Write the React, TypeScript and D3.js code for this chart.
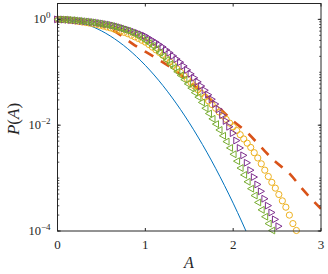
import React from "react";
import * as d3 from "d3";

// sample positions of the marker series (A)
const markerA = [
  0, 0.04, 0.08, 0.12, 0.16, 0.2, 0.24, 0.28, 0.32, 0.36, 0.4, 0.44, 0.48, 0.52, 0.56, 0.6, 0.64, 0.68, 0.72, 0.76,
  0.8, 0.84, 0.88, 0.92, 0.96, 1.0, 1.04, 1.08, 1.12, 1.16, 1.2, 1.24, 1.28, 1.32, 1.36, 1.4, 1.44, 1.48, 1.52, 1.56,
  1.6, 1.64, 1.68, 1.72, 1.76, 1.8, 1.84, 1.88, 1.92, 1.96, 2.0, 2.04, 2.08, 2.12, 2.16, 2.2, 2.24, 2.28, 2.32, 2.36,
  2.4, 2.44, 2.48, 2.52, 2.56, 2.6, 2.64, 2.68, 2.72,
];

// log10 P(A)
const circleLog = [
  0, -0.003, -0.006, -0.011, -0.02, -0.03, -0.039, -0.049, -0.059, -0.069, -0.08, -0.094, -0.11, -0.126, -0.143, -0.16,
  -0.18, -0.201, -0.223, -0.246, -0.27, -0.3, -0.33, -0.36, -0.395, -0.43, -0.475, -0.525, -0.575, -0.625, -0.68, -0.74,
  -0.805, -0.87, -0.935, -1.0, -1.065, -1.13, -1.195, -1.26, -1.33, -1.4, -1.47, -1.54, -1.61, -1.68, -1.75, -1.82,
  -1.89, -1.96, -2.03, -2.1, -2.18, -2.26, -2.34, -2.42, -2.52, -2.62, -2.73, -2.85, -2.97, -3.08, -3.19, -3.31, -3.43,
  -3.55, -3.7, -3.86, -3.99,
];

const rightTriLog = [
  0, -0.002, -0.005, -0.009, -0.014, -0.02, -0.025, -0.031, -0.037, -0.043, -0.05, -0.058, -0.068, -0.078, -0.089, -0.1,
  -0.115, -0.13, -0.148, -0.168, -0.19, -0.212, -0.235, -0.258, -0.283, -0.31, -0.35, -0.39, -0.43, -0.475, -0.52,
  -0.575, -0.63, -0.69, -0.75, -0.81, -0.88, -0.955, -1.03, -1.105, -1.18, -1.26, -1.34, -1.425, -1.51, -1.6, -1.7,
  -1.81, -1.92, -2.03, -2.15, -2.29, -2.43, -2.57, -2.71, -2.85, -2.98, -3.12, -3.25, -3.39, -3.52, -3.65, -3.78, -3.91,
];

const leftTriLog = [
  0, -0.002, -0.005, -0.009, -0.014, -0.02, -0.027, -0.035, -0.043, -0.051, -0.06, -0.071, -0.082, -0.094, -0.107,
  -0.12, -0.137, -0.156, -0.176, -0.198, -0.22, -0.25, -0.283, -0.318, -0.357, -0.4, -0.45, -0.5, -0.56, -0.63, -0.7,
  -0.77, -0.845, -0.915, -0.99, -1.06, -1.14, -1.22, -1.3, -1.385, -1.47, -1.57, -1.68, -1.78, -1.88, -1.98, -2.09,
  -2.2, -2.31, -2.43, -2.55, -2.68, -2.81, -2.94, -3.07, -3.2, -3.33, -3.46, -3.6, -3.73, -3.86, -3.99,
];

// dashed curve
const dashA = [0, 0.3, 0.6, 0.88, 1.1, 1.3, 1.5, 1.7, 1.83, 1.97, 2.16, 2.31, 2.46, 2.65, 2.79, 3.0];
const dashLog = [0, -0.05, -0.18, -0.49, -0.71, -0.92, -1.18, -1.45, -1.65, -1.88, -2.14, -2.4, -2.66, -2.93, -3.21, -3.58];

// thin solid curve
const lineA = [0, 0.1, 0.2, 0.3, 0.4, 0.5, 0.6, 0.7, 0.8, 0.9, 1.0, 1.1, 1.2, 1.3, 1.4, 1.5, 1.6, 1.7, 1.8, 1.9, 2.0, 2.1, 2.2];
const lineLog = [
  0, -0.0087, -0.0347, -0.0782, -0.139, -0.217, -0.313, -0.426, -0.556, -0.704, -0.869, -1.051, -1.251, -1.468,
  -1.702, -1.954, -2.224, -2.51, -2.814, -3.136, -3.474, -3.831, -4.204,
];

const xTicks = [0, 1, 2, 3];
const yTickExp = [-4, -2, 0];

const W = 328;
const H = 274;
const L = 57.5;
const R = 321;
const T = 3.5;
const B = 231;

const axisColor = "#262626";
const serif = "'Liberation Serif', 'Times New Roman', serif";

export default function App() {
  const x = d3.scaleLinear().domain([0, 3]).range([L, R]);
  const y = d3.scaleLog().domain([1e-4, Math.pow(10, 0.3)]).range([B, T]);

  const pts = (xs: number[], ls: number[]) =>
    ls.map((l, i) => ({ a: xs[i], p: Math.pow(10, l) })).filter((d) => d.p >= 1e-4 * 0.999);

  const line = d3
    .line<{ a: number; p: number }>()
    .x((d) => x(d.a))
    .y((d) => y(d.p))
    .curve(d3.curveMonotoneX);

  const blue = lineLog.map((l, i) => ({ a: lineA[i], p: Math.pow(10, l) }));
  const dash = dashLog.map((l, i) => ({ a: dashA[i], p: Math.pow(10, l) }));
  const circ = pts(markerA, circleLog);
  const rtri = pts(markerA, rightTriLog);
  const ltri = pts(markerA, leftTriLog);

  // minor log ticks
  const minor: number[] = [];
  for (let e = -4; e <= 0; e++) {
    for (let k = 1; k <= 9; k++) {
      const v = k * Math.pow(10, e);
      if (v <= Math.pow(10, 0.3)) minor.push(v);
    }
  }

  return (
    <svg width={W} height={H} style={{ position: "absolute", left: 0, top: 0 }}>
      <defs>
        <clipPath id="plot">
          <rect x={L} y={T} width={R - L} height={B - T} />
        </clipPath>
      </defs>
      <rect x={0} y={0} width={W} height={H} fill="#fff" />

      <g clipPath="url(#plot)">
        <path d={line(blue) || ""} fill="none" stroke="#0072BD" strokeWidth={1} />
        <path
          d={line(dash) || ""}
          fill="none"
          stroke="#D95319"
          strokeWidth={2.6}
          strokeDasharray="10,9"
        />
      </g>

      {circ.map((d, i) => (
        <circle key={"c" + i} cx={x(d.a)} cy={y(d.p)} r={3.1} fill="none" stroke="#EDB120" strokeWidth={1} />
      ))}
      {rtri.map((d, i) => {
        const cx = x(d.a);
        const cy = y(d.p);
        return (
          <path
            key={"r" + i}
            d={`M${cx - 2.9},${cy - 3.4}L${cx + 3.2},${cy}L${cx - 2.9},${cy + 3.4}Z`}
            fill="none"
            stroke="#7E2F8E"
            strokeWidth={1}
          />
        );
      })}
      {ltri.map((d, i) => {
        const cx = x(d.a);
        const cy = y(d.p);
        return (
          <path
            key={"l" + i}
            d={`M${cx + 2.9},${cy - 3.4}L${cx - 3.2},${cy}L${cx + 2.9},${cy + 3.4}Z`}
            fill="none"
            stroke="#77AC30"
            strokeWidth={1}
          />
        );
      })}

      {/* axes box */}
      <rect x={L} y={T} width={R - L} height={B - T} fill="none" stroke={axisColor} strokeWidth={1} />

      {/* x ticks */}
      {xTicks.map((t) => (
        <g key={"xt" + t}>
          <line x1={x(t)} x2={x(t)} y1={B} y2={B - 3} stroke={axisColor} strokeWidth={1} />
          <line x1={x(t)} x2={x(t)} y1={T} y2={T + 3} stroke={axisColor} strokeWidth={1} />
          <text x={x(t)} y={249} textAnchor="middle" fontFamily={serif} fontSize={13} fill="#262626">
            {t}
          </text>
        </g>
      ))}

      {/* y minor ticks */}
      {minor.map((v, i) => (
        <g key={"ym" + i}>
          <line x1={L} x2={L + 1.8} y1={y(v)} y2={y(v)} stroke={axisColor} strokeWidth={0.8} />
          <line x1={R} x2={R - 1.8} y1={y(v)} y2={y(v)} stroke={axisColor} strokeWidth={0.8} />
        </g>
      ))}
      {/* y major ticks */}
      {yTickExp.map((e) => {
        const v = Math.pow(10, e);
        return (
          <g key={"yt" + e}>
            <line x1={L} x2={L + 3.2} y1={y(v)} y2={y(v)} stroke={axisColor} strokeWidth={1} />
            <line x1={R} x2={R - 3.2} y1={y(v)} y2={y(v)} stroke={axisColor} strokeWidth={1} />
            <text x={50.5} y={y(v) + 4} textAnchor="end" fontFamily={serif} fontSize={12.5} fill="#262626">
              10
              <tspan dy={-5.5} fontSize={9}>
                {e === 0 ? "0" : "\u2212" + Math.abs(e)}
              </tspan>
            </text>
          </g>
        );
      })}

      {/* axis labels */}
      <text x={189} y={267.5} textAnchor="middle" fontFamily={serif} fontSize={16} fontStyle="italic" fill="#262626">
        A
      </text>
      <text
        transform={`translate(18.5,119) rotate(-90)`}
        textAnchor="middle"
        fontFamily={serif}
        fontSize={17}
        fill="#262626"
      >
        <tspan fontStyle="italic">P</tspan>
        <tspan>(</tspan>
        <tspan fontStyle="italic">A</tspan>
        <tspan>)</tspan>
      </text>
    </svg>
  );
}
